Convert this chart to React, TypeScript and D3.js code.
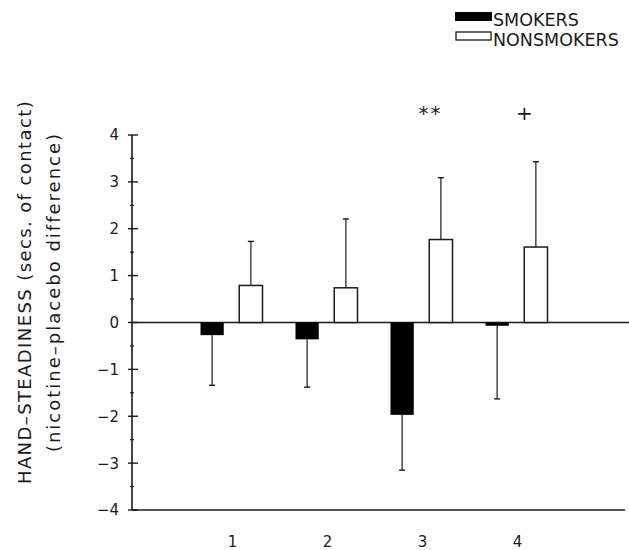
import { useEffect, useRef } from 'react';
import * as d3 from 'd3';

// data
const categories = ['1', '2', '3', '4'];
const seriesNames = ['SMOKERS', 'NONSMOKERS'];
const smokers = [-0.27, -0.36, -1.97, -0.07];
const smokersErr = [1.07, 1.02, 1.18, 1.56];
const nonsmokers = [0.79, 0.74, 1.77, 1.61];
const nonsmokersErr = [0.94, 1.47, 1.32, 1.82];
const yTicks = [-4, -3, -2, -1, 0, 1, 2, 3, 4];
const marks = ['', '', '**', '+'];

const App = () => {
  const ref = useRef<SVGSVGElement>(null);

  useEffect(() => {
    const width = 629;
    const font = "'DejaVu Sans', Verdana, sans-serif";
    const ink = '#1a1a1a';

    const svg = d3.select(ref.current);
    svg.selectAll('*').remove();

    const axisX = 132;
    const y = d3.scaleLinear().domain([-4, 4]).range([510, 135]);

    // groups
    const x = d3.scaleBand().domain(categories).range([185, 565]);
    const sub = d3.scaleBand().domain(seriesNames).range([-32, 30]).paddingInner(0.4);

    const g = svg.append('g');

    // zero line and bottom line
    g.append('line')
      .attr('x1', axisX).attr('x2', width)
      .attr('y1', y(0)).attr('y2', y(0))
      .attr('stroke', ink).attr('stroke-width', 1.6);
    g.append('line')
      .attr('x1', axisX).attr('x2', 625)
      .attr('y1', y(-4)).attr('y2', y(-4))
      .attr('stroke', ink).attr('stroke-width', 1.6);

    const rows = categories.map((c, i) => ({
      c,
      s: smokers[i], se: smokersErr[i],
      n: nonsmokers[i], ne: nonsmokersErr[i],
      mark: marks[i],
    }));

    const bw = sub.bandwidth();

    rows.forEach((d) => {
      const cx = (x(d.c) as number) + x.bandwidth() / 2;

      // smokers: error bar goes down
      const sx = cx + (sub('SMOKERS') as number);
      const sEnd = d.s - d.se;
      g.append('line')
        .attr('x1', sx + bw / 2).attr('x2', sx + bw / 2)
        .attr('y1', y(d.s)).attr('y2', y(sEnd))
        .attr('stroke', ink).attr('stroke-width', 1.2);
      g.append('line')
        .attr('x1', sx + bw / 2 - 3).attr('x2', sx + bw / 2 + 3)
        .attr('y1', y(sEnd)).attr('y2', y(sEnd))
        .attr('stroke', ink).attr('stroke-width', 1.4);
      g.append('rect')
        .attr('x', sx).attr('width', bw)
        .attr('y', y(Math.max(0, d.s))).attr('height', Math.abs(y(d.s) - y(0)))
        .attr('fill', '#000');

      // nonsmokers: error bar goes up
      const nx = cx + (sub('NONSMOKERS') as number);
      const nEnd = d.n + d.ne;
      g.append('line')
        .attr('x1', nx + bw / 2).attr('x2', nx + bw / 2)
        .attr('y1', y(d.n)).attr('y2', y(nEnd))
        .attr('stroke', ink).attr('stroke-width', 1.2);
      g.append('line')
        .attr('x1', nx + bw / 2 - 3).attr('x2', nx + bw / 2 + 3)
        .attr('y1', y(nEnd)).attr('y2', y(nEnd))
        .attr('stroke', ink).attr('stroke-width', 1.4);
      g.append('rect')
        .attr('x', nx).attr('width', bw)
        .attr('y', y(d.n)).attr('height', y(0) - y(d.n))
        .attr('fill', '#fff').attr('stroke', ink).attr('stroke-width', 1.5);

      // significance marks
      if (d.mark) {
        g.append('text')
          .attr('x', cx + 8).attr('y', 120)
          .attr('text-anchor', 'middle')
          .attr('letter-spacing', '2px')
          .style('font-family', font).style('font-size', '20px').style('fill', ink)
          .text(d.mark);
      }

      // category label
      g.append('text')
        .attr('x', cx).attr('y', 547)
        .attr('text-anchor', 'middle')
        .style('font-family', font).style('font-size', '15px').style('fill', ink)
        .text(d.c);
    });

    // y axis, ticks crossing the line
    const yAxis = svg.append('g');
    yAxis.append('line')
      .attr('x1', axisX).attr('x2', axisX)
      .attr('y1', y(4)).attr('y2', y(-4))
      .attr('stroke', ink).attr('stroke-width', 1.6);
    yTicks.forEach((t) => {
      yAxis.append('line')
        .attr('x1', axisX - 4).attr('x2', axisX + 6)
        .attr('y1', y(t)).attr('y2', y(t))
        .attr('stroke', ink).attr('stroke-width', 1.4);
      yAxis.append('text')
        .attr('x', axisX - 13).attr('y', y(t))
        .attr('dy', '0.36em')
        .attr('text-anchor', 'end')
        .style('font-family', font).style('font-size', '15px').style('fill', ink)
        .text(t < 0 ? `\u2212${Math.abs(t)}` : `${t}`);
    });
    yTicks.slice(0, -1).forEach((t) => {
      yAxis.append('line')
        .attr('x1', axisX - 2).attr('x2', axisX + 2)
        .attr('y1', y(t + 0.5)).attr('y2', y(t + 0.5))
        .attr('stroke', ink).attr('stroke-width', 1.2);
    });

    // y axis title (two lines)
    const midY = 292;
    [
      { text: 'HAND\u2013STEADINESS (secs. of contact)', xPos: 31, ls: '1.4px' },
      { text: '(nicotine\u2013placebo difference)', xPos: 60, ls: '2px' },
    ].forEach((l) => {
      svg.append('text')
        .attr('transform', `translate(${l.xPos},${midY}) rotate(-90)`)
        .attr('text-anchor', 'middle')
        .attr('letter-spacing', l.ls)
        .style('font-family', font).style('font-size', '18px').style('fill', ink)
        .text(l.text);
    });

    // legend
    const legend = svg.append('g');
    legend.append('rect')
      .attr('x', 455).attr('y', 12).attr('width', 37).attr('height', 9)
      .attr('fill', '#000');
    legend.append('text')
      .attr('x', 493).attr('y', 26)
      .style('font-family', font).style('font-size', '17.5px').style('fill', ink)
      .text('SMOKERS');
    legend.append('rect')
      .attr('x', 456).attr('y', 32).attr('width', 35).attr('height', 8)
      .attr('fill', '#fff').attr('stroke', ink).attr('stroke-width', 1.3);
    legend.append('text')
      .attr('x', 493).attr('y', 46)
      .style('font-family', font).style('font-size', '17.5px').style('fill', ink)
      .text('NONSMOKERS');
  }, []);

  return (
    <svg
      ref={ref}
      width={629}
      height={550}
      style={{ position: 'absolute', left: 0, top: 0, background: '#fff' }}
    />
  );
};

export default App;
